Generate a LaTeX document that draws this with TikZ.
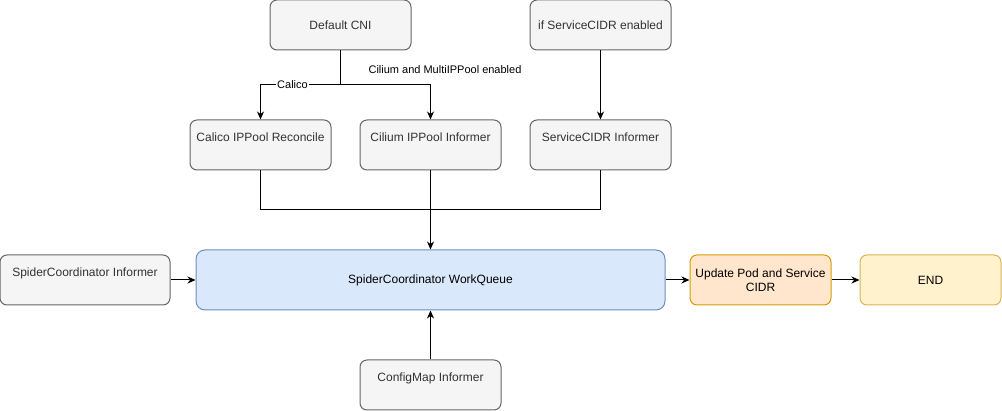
\documentclass[tikz,border=0pt]{standalone}
\usepackage{fontspec}
\setmainfont{Liberation Sans}
\usetikzlibrary{arrows.meta}
\definecolor{greyfill}{HTML}{F5F5F5}
\definecolor{greyline}{HTML}{666666}
\definecolor{greytext}{HTML}{333333}
\definecolor{bluefill}{HTML}{DAE8FC}
\definecolor{blueline}{HTML}{6C8EBF}
\definecolor{orangefill}{HTML}{FFE6CC}
\definecolor{orangeline}{HTML}{D79B00}
\definecolor{yellowfill}{HTML}{FFF2CC}
\definecolor{yellowline}{HTML}{D6B656}
\tikzset{
  box/.style={draw=greyline, line width=1pt, fill=greyfill, text=greytext, rounded corners=7pt, minimum width=141pt, minimum height=50pt, inner sep=0pt, align=center, font=\fontsize{12}{14}\selectfont},
  topbox/.style={box, text height=21.5pt, text depth=28.5pt},
  link/.style={line width=1pt, draw=black},
  flow/.style={link, -{Stealth[length=8pt, width=7pt, inset=2.5pt]}},
  edgetext/.style={font=\fontsize{11}{13}\selectfont, inner sep=1pt}
}
\begin{document}
\begin{tikzpicture}[x=1pt, y=-1pt]
\useasboundingbox (0,0) rectangle (1002,411);
% sources
\node[box] (cni) at (340.5,25) {Default CNI};
\node[box] (svcif) at (600.5,25) {if ServiceCIDR enabled};
\node[topbox] (calico) at (260.5,145) {Calico IPPool Reconcile};
\node[topbox] (cilium) at (430.5,145) {Cilium IPPool Informer};
\node[topbox] (svcinf) at (600.5,145) {ServiceCIDR Informer};
\node[topbox, minimum width=170pt, text height=22pt, text depth=28pt] (spiderinf) at (85,280) {SpiderCoordinator Informer};
\node[topbox] (cfgmap) at (430.5,385) {ConfigMap Informer};
% queue and result
\node[box, draw=blueline, fill=bluefill, text=black, minimum width=469pt, minimum height=60pt, rounded corners=9pt] (queue) at (430.5,280) {SpiderCoordinator WorkQueue};
\node[box, draw=orangeline, fill=orangefill, text=black] (update) at (760.5,280) {Update Pod and Service\\CIDR};
\node[box, draw=yellowline, fill=yellowfill, text=black] (endn) at (930.5,280) {END};
\coordinate (cnisplit) at (340.5,85);
\coordinate (merge) at (430.5,210);
% connectors
\draw[link] (cni) -- (cnisplit);
\draw[flow] (cnisplit) -| node[edgetext, pos=0.3, fill=white] {Calico} (calico);
\draw[flow] (cnisplit) -| node[edgetext, pos=0.5, xshift=14.5pt, yshift=15pt] {Cilium and MultiIPPool enabled} (cilium);
\draw[flow] (svcif) -- (svcinf);
\draw[link] (calico) |- (merge);
\draw[link] (svcinf) |- (merge);
\draw[flow] (cilium) -- (queue);
\draw[flow] (spiderinf) -- (queue);
\draw[flow] (cfgmap) -- (queue);
\draw[flow] (queue) -- (update);
\draw[flow] (update) -- (endn);
\end{tikzpicture}
\end{document}
